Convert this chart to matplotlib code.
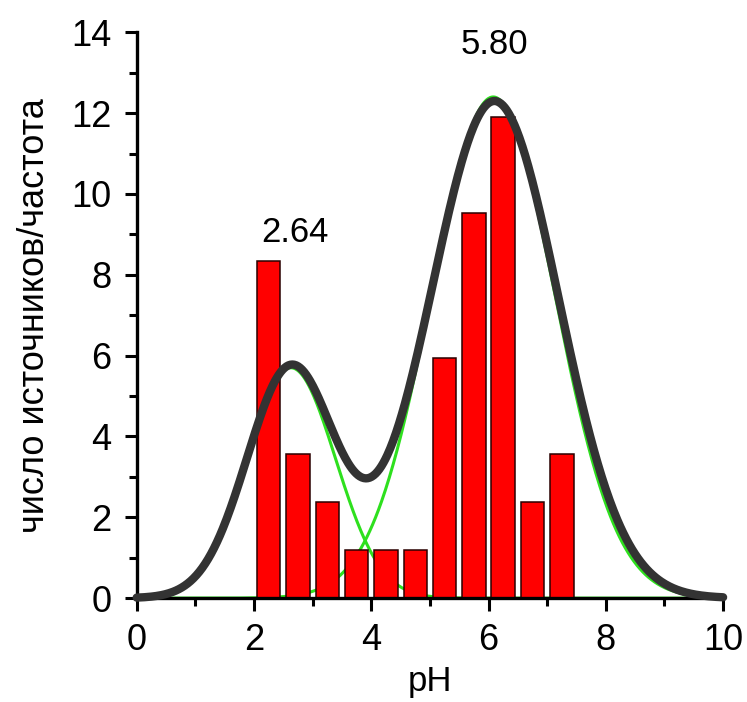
import matplotlib.pyplot as plt
import numpy as np
from matplotlib.ticker import MultipleLocator

plt.rcParams['font.family'] = ['Liberation Sans', 'DejaVu Sans']

# histogram of pH values
bin_centers = [2.25, 2.75, 3.25, 3.75, 4.25, 4.75, 5.25, 5.75, 6.25, 6.75, 7.25]
freq = [8.33, 3.57, 2.38, 1.19, 1.19, 1.19, 5.95, 9.52, 11.90, 2.38, 3.57]

# fitted peaks (center, height, width)
green_peaks = [(2.63, 5.70, 0.76), (6.08, 12.40, 1.05)]
black_peaks = [(2.63, 5.70, 0.75), (6.10, 12.30, 1.09)]

peak_labels = ['2.64', '5.80']
label_x = [2.69, 6.10]
label_y = [9.05, 13.7]


def gauss(x, c, a, w):
    return a * np.exp(-(x - c) ** 2 / (2 * w ** 2))


fig = plt.figure(figsize=(7.47, 7.02), dpi=100)
ax = fig.add_axes([0.183, 0.148, 0.785, 0.806])

x = np.linspace(0, 10, 600)

# single components
for c, a, w in green_peaks:
    ax.plot(x, gauss(x, c, a, w), color='#2ee01e', lw=2.2, zorder=1, clip_on=False)

ax.bar(bin_centers, freq, width=0.4, color='#ff0000', edgecolor='#2a0000',
       linewidth=1.1, zorder=2)

# cumulative fit
total = sum(gauss(x, c, a, w) for c, a, w in black_peaks)
ax.plot(x, total, color='#333333', lw=6.0, zorder=3, clip_on=False,
        solid_capstyle='round')

for t, lx, ly in zip(peak_labels, label_x, label_y):
    ax.text(lx, ly, t, ha='center', va='center', fontsize=25)

ax.set_xlim(0, 10)
ax.set_ylim(0, 14)
ax.xaxis.set_major_locator(MultipleLocator(2))
ax.xaxis.set_minor_locator(MultipleLocator(1))
ax.yaxis.set_major_locator(MultipleLocator(2))
ax.yaxis.set_minor_locator(MultipleLocator(1))

ax.spines['top'].set_visible(False)
ax.spines['right'].set_visible(False)
ax.spines['left'].set_linewidth(2.4)
ax.spines['bottom'].set_linewidth(2.4)
ax.tick_params(which='major', direction='out', length=9, width=2.2, labelsize=26, pad=9)
ax.tick_params(which='minor', direction='out', length=6, width=2.2)

ax.set_xlabel('pH', fontsize=25, labelpad=5)
ax.set_ylabel('число источников/частота', fontsize=26, labelpad=14)

fig.savefig('out.png', dpi=100)
